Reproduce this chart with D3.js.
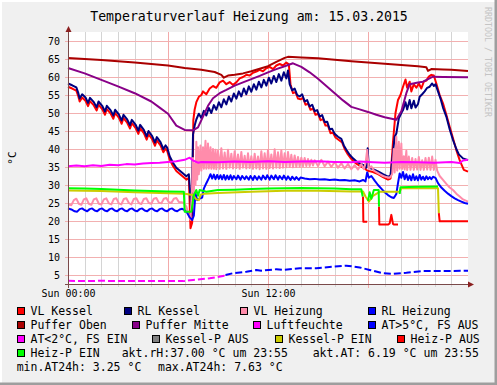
<!DOCTYPE html>
<html>
<head>
<meta charset="utf-8">
<script src="https://cdn.jsdelivr.net/npm/d3@7"></script>
<style>
  body { margin: 0; background: #f0f0f0; }
  svg { display: block; }
  text { font-family: "DejaVu Sans Mono", monospace; }
</style>
</head>
<body>
<script>
// Temperaturverlauf Heizung, rrdtool style

var width = 497;
var height = 385;

var title = "Temperaturverlauf Heizung am: 15.03.2015";
var yLabel = "°C";
var credit = "RRDTOOL / TOBI OETIKER";

var yTicks = [5, 10, 15, 20, 25, 30, 35, 40, 45, 50, 55, 60, 65, 70];
var xTickHours = [0, 12];
var xTickLabels = ["Sun 00:00", "Sun 12:00"];

// [hour, °C]
var vlKessel = [[0,57.3],[0.25,56.8],[0.5,56.2],[0.62,54.6],[0.7,53.2],[0.85,54.3],[1.05,53.4],[1.2,51.9],[1.32,53.3],[1.55,52.1],[1.72,50.7],[1.83,52.3],[2.05,51.1],[2.22,49.5],[2.33,51.1],[2.55,49.9],[2.72,48.4],[2.83,50.0],[3.05,48.7],[3.22,47.0],[3.33,48.6],[3.55,47.3],[3.72,45.7],[3.83,47.2],[4.05,45.9],[4.22,44.2],[4.33,45.8],[4.55,44.4],[4.72,42.6],[4.83,44.1],[5.05,42.7],[5.22,40.9],[5.33,42.4],[5.55,41.0],[5.72,39.1],[5.85,40.1],[5.95,39.5],[6.1,37.1],[6.3,35.3],[6.5,33.9],[6.8,32.7],[7.1,31.5],[7.25,32.0],[7.35,18.0],[7.45,19.5],[7.52,48.0],[7.6,51.0],[7.7,53.0],[7.85,54.5],[8.0,55.0],[8.1,56.0],[8.3,55.2],[8.5,56.8],[8.7,57.5],[8.9,57.0],[9.1,58.5],[9.3,59.0],[9.5,58.0],[9.7,58.6],[9.9,57.8],[10.1,58.5],[10.3,59.6],[10.5,60.0],[10.7,60.6],[10.9,60.4],[11.1,61.2],[11.3,61.5],[11.5,62.0],[11.7,61.6],[11.9,62.4],[12.1,62.8],[12.3,62.2],[12.5,63.2],[12.7,63.6],[12.9,63.2],[13.1,64.0],[13.25,63.5],[13.35,58.0],[13.5,55.5],[13.65,55.8],[13.8,54.0],[13.95,53.8],[14.1,54.2],[14.25,52.3],[14.4,52.6],[14.55,50.9],[14.7,51.2],[14.85,49.5],[15.0,49.8],[15.15,48.0],[15.3,48.3],[15.45,46.5],[15.6,46.5],[15.75,44.4],[15.9,44.5],[16.05,43.2],[16.25,42.5],[16.45,41.8],[16.6,40.0],[16.75,38.8],[16.95,37.5],[17.15,36.5],[17.35,35.8],[17.55,35.2],[17.75,34.8],[17.95,34.0],[18.3,33.6],[18.6,33.0],[18.9,32.2],[19.2,31.5],[19.35,31.8],[19.5,42.0],[19.65,50.0],[19.8,53.6],[19.95,55.0],[20.1,57.3],[20.25,59.3],[20.35,57.0],[20.5,58.7],[20.6,56.0],[20.75,58.0],[20.9,57.0],[21.05,58.2],[21.2,56.8],[21.35,58.7],[21.5,59.0],[21.65,60.1],[21.8,60.6],[21.95,60.4],[22.1,58.2],[22.3,55.0],[22.5,52.7],[22.7,49.5],[22.9,46.2],[23.1,43.0],[23.3,39.7],[23.5,36.9],[23.6,35.8],[23.75,34.2],[24,33.7]];

var rlKessel = [[0,58.2],[0.25,57.7],[0.5,57.1],[0.62,55.5],[0.7,54.0],[0.85,55.2],[1.05,54.3],[1.2,52.8],[1.32,54.2],[1.55,53.0],[1.72,51.6],[1.83,53.2],[2.05,52.0],[2.22,50.4],[2.33,52.0],[2.55,50.8],[2.72,49.3],[2.83,50.9],[3.05,49.6],[3.22,47.9],[3.33,49.5],[3.55,48.2],[3.72,46.6],[3.83,48.1],[4.05,46.8],[4.22,45.1],[4.33,46.7],[4.55,45.3],[4.72,43.5],[4.83,45.0],[5.05,43.6],[5.22,41.8],[5.33,43.3],[5.55,41.9],[5.72,40.0],[5.85,41.0],[5.95,40.4],[6.1,38.0],[6.3,36.2],[6.5,34.8],[6.8,33.6],[7.1,32.4],[7.25,33.0],[7.42,21.5],[7.5,44.0],[7.6,46.5],[7.7,48.2],[7.85,49.8],[8.0,48.6],[8.15,50.6],[8.3,49.3],[8.45,51.4],[8.6,50.0],[8.75,52.2],[8.9,50.9],[9.05,53.0],[9.2,51.6],[9.35,53.8],[9.5,52.4],[9.65,54.6],[9.8,53.2],[9.95,55.4],[10.1,54.0],[10.25,56.0],[10.4,54.6],[10.55,56.8],[10.7,55.2],[10.85,57.4],[11.0,55.9],[11.15,58.0],[11.3,56.5],[11.45,58.7],[11.6,57.1],[11.75,59.2],[11.9,57.6],[12.05,59.8],[12.2,58.2],[12.35,60.3],[12.5,58.6],[12.65,60.8],[12.8,59.0],[12.95,61.3],[13.1,59.6],[13.2,61.8],[13.3,58.0],[13.45,56.3],[13.6,56.8],[13.75,55.0],[13.9,54.6],[14.05,55.2],[14.2,53.2],[14.35,53.6],[14.5,51.8],[14.65,52.3],[14.8,50.5],[14.95,50.8],[15.1,49.0],[15.25,49.4],[15.4,47.5],[15.55,47.6],[15.7,45.5],[15.85,45.6],[16.0,44.2],[16.2,43.4],[16.4,42.8],[16.55,41.0],[16.7,39.8],[16.9,38.4],[17.1,37.4],[17.3,36.6],[17.5,36.0],[17.7,35.6],[17.9,34.8],[17.98,40.2],[18.05,34.8],[18.3,34.4],[18.6,33.8],[18.9,33.0],[19.2,32.3],[19.35,32.6],[19.5,39.0],[19.6,43.4],[19.7,44.3],[19.85,48.5],[20.0,50.0],[20.1,50.8],[20.25,53.0],[20.35,51.0],[20.5,53.6],[20.6,51.3],[20.75,53.4],[20.85,51.5],[21.0,52.5],[21.1,54.5],[21.25,55.2],[21.4,56.0],[21.55,57.0],[21.7,57.3],[21.85,58.2],[21.95,57.5],[22.05,58.0],[22.2,56.0],[22.35,54.0],[22.5,51.5],[22.7,49.0],[22.9,45.5],[23.1,42.5],[23.3,40.0],[23.45,38.5],[23.7,37.4],[24,36.9]];

var vlHeizung = [[0,24.6],[0.2,24.4],[0.35,25.8],[0.5,26.2],[0.65,24.8],[0.8,24.5],[0.95,26.0],[1.1,26.3],[1.25,24.8],[1.4,24.5],[1.55,26.0],[1.7,26.3],[1.85,24.8],[2.0,24.6],[2.15,26.0],[2.3,26.3],[2.45,24.9],[2.6,24.6],[2.75,26.1],[2.9,26.3],[3.05,24.9],[3.2,24.6],[3.35,26.1],[3.5,26.3],[3.65,25.0],[3.8,24.6],[3.95,26.1],[4.1,26.3],[4.25,25.0],[4.4,24.7],[4.55,26.1],[4.7,26.3],[4.85,25.0],[5.0,24.8],[5.15,26.2],[5.3,26.4],[5.45,25.1],[5.6,24.9],[5.75,26.2],[5.9,26.4],[6.05,25.2],[6.2,25.0],[6.35,26.2],[6.5,26.4],[6.65,25.3],[6.8,25.2],[6.95,25.0],[7.1,24.0],[7.25,21.5],[7.35,20.3],[7.45,30.0],[7.5,37.5],[7.55,28.0],[7.6,36.0],[7.65,30.0],[7.7,42.0],[7.75,31.5],[7.8,40.5],[7.85,33.0],[7.95,41.0],[8.0,34.0],[8.1,40.5],[8.15,34.5],[8.25,42.3],[8.3,34.5],[8.4,41.5],[8.45,34.6],[8.55,40.5],[8.6,34.5],[8.7,40.0],[8.75,34.5],[8.85,39.8],[8.9,34.4],[9.0,39.5],[9.1,34.5],[9.2,40.2],[9.3,34.6],[9.4,39.0],[9.5,34.5],[9.6,39.8],[9.7,34.8],[9.8,38.7],[9.9,34.6],[10.0,39.4],[10.1,34.7],[10.2,38.5],[10.3,34.5],[10.4,39.2],[10.5,34.8],[10.6,38.1],[10.7,34.6],[10.8,38.8],[10.9,34.7],[11.0,38.0],[11.1,34.5],[11.2,38.7],[11.3,34.6],[11.4,37.9],[11.5,34.4],[11.6,39.4],[11.7,34.6],[11.8,38.8],[11.9,34.5],[12.0,39.7],[12.1,34.7],[12.2,38.5],[12.3,34.6],[12.4,39.9],[12.5,34.8],[12.6,39.1],[12.7,34.7],[12.8,39.6],[12.9,34.8],[13.0,38.8],[13.1,34.9],[13.2,39.2],[13.3,35.0],[13.4,38.4],[13.5,34.9],[13.6,38.2],[13.7,35.0],[13.8,37.8],[13.9,35.1],[14.0,37.6],[14.1,35.2],[14.2,37.5],[14.3,35.3],[14.4,37.2],[14.5,35.3],[14.6,37.0],[14.7,35.4],[14.8,36.9],[15.0,35.3],[15.2,37.0],[15.4,35.2],[15.6,36.5],[15.8,35.0],[16.0,36.4],[16.2,34.8],[16.4,36.0],[16.6,34.6],[16.8,35.8],[17.0,34.4],[17.2,35.5],[17.4,34.3],[17.6,35.8],[17.75,34.4],[17.85,36.0],[17.95,39.7],[18.05,34.5],[18.2,35.2],[18.35,34.0],[18.5,33.6],[18.7,33.0],[18.9,32.5],[19.1,32.2],[19.3,32.0],[19.45,33.0],[19.55,40.0],[19.6,33.5],[19.7,43.4],[19.75,34.0],[19.85,42.0],[19.9,34.5],[20.0,41.5],[20.05,34.5],[20.15,38.0],[20.2,34.3],[20.3,39.5],[20.35,34.2],[20.45,37.9],[20.55,34.2],[20.65,37.5],[20.75,34.2],[20.85,37.2],[20.95,34.3],[21.05,37.8],[21.15,34.2],[21.25,36.9],[21.35,34.2],[21.45,37.5],[21.55,34.3],[21.65,37.6],[21.75,34.2],[21.85,37.9],[21.95,34.2],[22.05,37.0],[22.15,34.0],[22.3,32.5],[22.5,31.4],[22.7,30.3],[22.9,29.3],[23.1,28.6],[23.3,27.6],[23.5,26.8],[23.7,26.0],[24,25.4]];

var rlHeizung = [[0,23.5],[0.2,23.2],[0.4,22.7],[0.55,22.6],[0.7,23.3],[0.85,23.5],[1.0,23.0],[1.15,22.7],[1.3,23.3],[1.45,23.5],[1.6,22.9],[1.75,22.7],[1.9,23.3],[2.05,23.5],[2.2,22.9],[2.35,22.7],[2.5,23.3],[2.65,23.5],[2.8,22.9],[2.95,22.7],[3.1,23.3],[3.25,23.5],[3.4,22.9],[3.55,22.7],[3.7,23.3],[3.85,23.5],[4.0,22.9],[4.15,22.7],[4.3,23.3],[4.45,23.5],[4.6,22.9],[4.75,22.7],[4.9,23.3],[5.05,23.5],[5.2,22.9],[5.35,22.7],[5.5,23.3],[5.65,23.5],[5.8,22.9],[5.95,22.7],[6.1,23.3],[6.25,23.5],[6.4,22.9],[6.55,22.7],[6.7,23.2],[6.85,23.4],[7.0,23.0],[7.15,22.3],[7.3,21.0],[7.45,20.3],[7.55,21.5],[7.65,27.7],[7.75,25.8],[7.9,26.2],[8.05,26.5],[8.15,29.0],[8.3,30.5],[8.45,31.9],[8.55,33.0],[8.65,31.8],[8.75,32.9],[8.85,31.6],[8.95,32.8],[9.05,31.7],[9.15,32.7],[9.25,31.6],[9.35,32.8],[9.45,31.5],[9.55,32.6],[9.65,31.6],[9.75,32.7],[9.85,31.5],[9.95,32.5],[10.1,31.6],[10.2,32.6],[10.35,31.5],[10.45,32.5],[10.6,31.6],[10.7,32.4],[10.85,31.5],[10.95,32.5],[11.1,31.4],[11.2,32.5],[11.35,31.5],[11.45,32.4],[11.6,31.5],[11.7,32.6],[11.85,31.6],[11.95,32.7],[12.1,31.5],[12.2,32.6],[12.35,31.6],[12.45,32.7],[12.6,31.5],[12.7,32.5],[12.85,31.6],[12.95,32.6],[13.1,31.5],[13.2,32.4],[13.35,31.4],[13.45,32.3],[13.6,31.5],[13.7,32.2],[13.85,31.4],[13.95,32.1],[14.2,31.8],[14.5,31.6],[14.8,31.7],[15.1,31.5],[15.4,31.6],[15.7,31.4],[16.0,31.5],[16.3,31.3],[16.6,31.4],[16.9,31.2],[17.2,31.3],[17.5,31.0],[17.7,31.4],[17.85,31.0],[17.95,33.5],[18.05,32.0],[18.2,32.5],[18.4,31.2],[18.6,30.0],[18.8,29.0],[19.0,28.0],[19.2,27.2],[19.4,26.6],[19.55,26.4],[19.7,27.5],[19.8,30.5],[19.9,33.2],[20.0,32.0],[20.1,33.6],[20.2,31.6],[20.3,33.0],[20.4,31.4],[20.5,32.6],[20.6,31.3],[20.7,33.0],[20.8,31.4],[20.9,32.4],[21.0,31.3],[21.1,32.8],[21.2,31.5],[21.3,32.3],[21.4,31.4],[21.5,32.4],[21.6,31.6],[21.7,32.2],[21.8,31.6],[21.9,32.3],[22.05,32.0],[22.2,30.5],[22.4,29.3],[22.6,28.4],[22.8,27.6],[23.0,26.9],[23.2,26.3],[23.4,25.8],[23.6,25.4],[23.8,25.0],[24,24.8]];

var pufferOben = [[0,65.3],[2,64.7],[4,64.0],[6,63.2],[7,62.5],[8,62.0],[8.8,61.4],[9.2,60.6],[9.35,59.8],[9.6,60.4],[10,60.6],[10.5,61.0],[11,61.6],[11.5,62.3],[12,63.0],[12.5,64.2],[13,65.3],[13.2,65.6],[14,65.4],[15,65.2],[16,64.8],[17,64.4],[18,64.0],[19,63.7],[20,63.3],[21,63.0],[21.5,62.7],[21.6,61.7],[21.8,62.2],[22.5,62.1],[23,62.0],[24,61.7]];

var pufferMitte = [[0,62.5],[1,61.0],[2,59.2],[3,57.4],[4,55.5],[5,53.2],[5.5,51.5],[6,49.8],[6.5,46.5],[7,45.3],[7.5,45.2],[7.8,46.0],[8.1,49.0],[8.4,52.0],[8.7,54.1],[9.1,55.5],[9.5,56.4],[10,57.6],[10.5,58.5],[11,59.4],[11.5,60.3],[12,61.3],[12.5,62.2],[13,63.0],[13.5,63.8],[14,62.8],[14.5,61.3],[15,59.5],[15.5,57.5],[16,55.5],[16.5,53.5],[17,51.7],[17.5,51.0],[18,50.3],[18.5,49.5],[19,48.8],[19.7,48.1],[20.0,50.5],[20.3,55.5],[20.5,58.0],[21,58.5],[21.3,58.7],[21.9,60.1],[22.5,60.0],[24,59.9]];

var luftfeuchte = [[0,35.2],[0.5,35.4],[1,35.2],[1.5,35.5],[2,35.3],[2.5,35.6],[3,35.5],[3.5,35.8],[4,35.7],[4.5,36.0],[5,36.1],[5.5,36.2],[6,36.4],[6.5,36.6],[7,37.0],[7.3,37.6],[7.5,36.8],[7.8,36.2],[8,36.4],[9,36.3],[10,36.5],[11,36.4],[12,36.6],[13,36.4],[14,36.5],[15,36.6],[16,36.4],[17,36.3],[17.5,36.5],[18,36.4],[19,36.2],[20,36.4],[21,36.3],[22,36.2],[23,36.4],[23.5,36.1],[23.7,36.8],[24,37.0]];

var atWarm = [[9.45,5.0],[9.9,5.5],[10.7,5.9],[11.3,6.4],[11.6,6.2],[12.5,6.6],[12.9,6.4],[13.9,6.9],[14.9,6.9],[15.9,7.3],[16.7,7.6],[17.5,7.1],[18.1,6.4],[18.9,5.5],[19.5,5.3],[20.3,5.6],[21.3,6.1],[22.9,6.1],[24,6.2]];

var atCold = [[0,3.4],[1,3.3],[2,3.4],[3,3.3],[4,3.3],[5,3.3],[6,3.3],[6.9,3.3],[7.5,3.6],[8.5,4.1],[9.3,4.7],[9.45,5.0]];

var kesselPEin = [[0,28.5],[2,28.3],[4,28.0],[6,27.7],[7.0,27.6],[7.5,27.2],[7.7,26.0],[7.85,25.8],[7.95,27.3],[8.2,27.6],[9,27.8],[11,28.1],[13,28.4],[15,28.4],[17,28.2],[17.7,28.2],[17.85,26.8],[18.05,25.4],[18.3,27.0],[18.7,28.1],[19.9,28.1],[20.0,29.1],[22.2,29.1],[22.25,22.2]];

var heizPAus = [[17.7,26.8],[17.72,19.8],[17.95,19.8],null,[18.66,24.0],[18.68,19.0],[19.2,19.0],[19.3,19.3],[19.4,21.7],[19.5,19.2],[19.55,19.0],[19.8,19.0],null,[22.25,22.2],[22.3,19.9],[24,19.9]];

var heizPEin = [[0,29.1],[1,29.0],[2,28.9],[3,28.7],[4,28.5],[5,28.3],[6,28.2],[6.95,28.1],[7.0,22.6],[7.4,22.6],[7.55,27.2],[7.7,28.6],[7.8,27.0],[7.9,28.6],[8.3,28.1],[9,28.6],[10,28.7],[11,28.9],[12,29.0],[13,29.1],[14,29.2],[15,29.1],[16,29.0],[17,28.8],[17.6,28.8],[17.68,26.8],null,[18.0,25.6],[18.1,28.0],[18.2,26.2],[18.35,28.6],[18.64,28.6],[18.66,24.0],null,[19.9,27.5],[19.95,29.4],[21,29.5],[22.2,29.6]];

var legendLabels = ["VL Kessel", "RL Kessel", "VL Heizung", "RL Heizung",
  "Puffer Oben", "Puffer Mitte", "Luftfeuchte", "AT>5°C, FS AUS",
  "AT<2°C, FS EIN", "Kessel-P AUS", "Kessel-P EIN", "Heiz-P AUS",
  "Heiz-P EIN"];
var legendColors = ["#ff0000", "#000080", "#ff8cab", "#0000ff",
  "#aa0000", "#880088", "#ff00ff", "#0000ff",
  "#ff00ff", "#808080", "#cccc00", "#ff0000",
  "#00ff00"];
var statLines = ["akt.rH:37.00 °C um 23:55", "akt.AT: 6.19 °C um 23:55",
  "min.AT24h: 3.25 °C", "max.AT24h: 7.63 °C"];

// series drawn in rrd order, index into legend colours
var series = [
  { data: vlKessel, c: 0 }, { data: rlKessel, c: 1 },
  { data: vlHeizung, c: 2 }, { data: rlHeizung, c: 3 },
  { data: pufferOben, c: 4 }, { data: pufferMitte, c: 5 },
  { data: luftfeuchte, c: 6 },
  { data: atWarm, c: 7, dash: "7,3" }, { data: atCold, c: 8, dash: "7,3" },
  { data: kesselPEin, c: 10 }, { data: heizPAus, c: 11 },
  { data: heizPEin, c: 12 }
];

// layout
var plotL = 68, plotR = 468, plotT = 32, plotB = 284;

var x = d3.scaleLinear().domain([0, 24]).range([plotL, plotR]);
var y = d3.scaleLinear().domain([2.5, 72.5]).range([plotB, plotT]);

var svg = d3.select("body").append("svg")
  .attr("width", width)
  .attr("height", height);

// canvas + shaded border
svg.append("rect").attr("width", width).attr("height", height).attr("fill", "#f0f0f0");
svg.append("path").attr("d", "M0,385 V0 H497").attr("stroke", "#ffffff").attr("stroke-width", 4).attr("fill", "none");
svg.append("path").attr("d", "M0,384 H496 V0").attr("stroke", "#9e9e9e").attr("stroke-width", 3).attr("fill", "none");

svg.append("rect")
  .attr("x", plotL).attr("y", plotT)
  .attr("width", plotR - plotL).attr("height", plotB - plotT)
  .attr("fill", "#ffffff");

// grid
var grid = svg.append("g").attr("shape-rendering", "crispEdges");
var hours = d3.range(1, 24);
grid.selectAll("line.minor")
  .data(hours.filter(function(h){ return h % 6 !== 0; }))
  .enter().append("line")
  .attr("x1", function(h){ return Math.round(x(h)) + 0.5; })
  .attr("x2", function(h){ return Math.round(x(h)) + 0.5; })
  .attr("y1", plotT).attr("y2", plotB + 3)
  .attr("stroke", "#d4d4d4");
grid.selectAll("line.major")
  .data(hours.filter(function(h){ return h % 6 === 0; }))
  .enter().append("line")
  .attr("x1", function(h){ return Math.round(x(h)) + 0.5; })
  .attr("x2", function(h){ return Math.round(x(h)) + 0.5; })
  .attr("y1", plotT).attr("y2", plotB + 4)
  .attr("stroke", "#f2aaaa");
grid.selectAll("line.h")
  .data(yTicks)
  .enter().append("line")
  .attr("x1", plotL - 3).attr("x2", plotR)
  .attr("y1", function(d){ return Math.round(y(d)) + 0.5; })
  .attr("y2", function(d){ return Math.round(y(d)) + 0.5; })
  .attr("stroke", "#f2b0b0");

// y labels
var yAxis = d3.axisLeft(y).tickValues(yTicks).tickSize(0).tickPadding(8);
svg.append("g")
  .attr("transform", "translate(" + plotL + ",0)")
  .call(yAxis)
  .call(function(g){ g.select(".domain").remove(); })
  .selectAll("text")
  .attr("font-family", "DejaVu Sans Mono")
  .attr("font-size", "10px")
  .attr("fill", "#000");

// x labels
var xAxis = d3.axisBottom(x).tickValues(xTickHours)
  .tickFormat(function(d, i){ return xTickLabels[i]; })
  .tickSize(0).tickPadding(6);
svg.append("g")
  .attr("transform", "translate(0," + plotB + ")")
  .call(xAxis)
  .call(function(g){ g.select(".domain").remove(); })
  .selectAll("text")
  .attr("font-family", "DejaVu Sans Mono")
  .attr("font-size", "10px")
  .attr("fill", "#000");

// series
var line = d3.line()
  .defined(function(d){ return d !== null; })
  .x(function(d){ return x(d[0]); })
  .y(function(d){ return y(d[1]); });

svg.append("g").selectAll("path")
  .data(series)
  .enter().append("path")
  .attr("d", function(s){ return line(s.data); })
  .attr("fill", "none")
  .attr("stroke", function(s){ return legendColors[s.c]; })
  .attr("stroke-width", 2)
  .attr("stroke-linejoin", "round")
  .attr("stroke-dasharray", function(s){ return s.dash || null; });

// axes with arrows
var axisColor = "#8b2020";
svg.append("line")
  .attr("x1", plotL - 3).attr("x2", plotR + 3)
  .attr("y1", plotB + 0.5).attr("y2", plotB + 0.5)
  .attr("stroke", "#7a4a4a");
svg.append("line")
  .attr("x1", plotL + 0.5).attr("x2", plotL + 0.5)
  .attr("y1", plotB + 4).attr("y2", plotT - 3)
  .attr("stroke", "#7a4a4a");
svg.append("path")
  .attr("d", "M" + (plotL + 0.5) + "," + (plotT - 6) + " l-3,6 h6 z")
  .attr("fill", axisColor);
svg.append("path")
  .attr("d", "M" + (plotR + 6) + "," + (plotB + 0.5) + " l-6,-3 v6 z")
  .attr("fill", axisColor);

// texts
svg.append("text")
  .attr("x", 249).attr("y", 20.5)
  .attr("text-anchor", "middle")
  .attr("font-size", "13.2px")
  .text(title);

svg.append("text")
  .attr("transform", "translate(15.5,158) rotate(-90)")
  .attr("text-anchor", "middle")
  .attr("font-size", "11px")
  .text(yLabel);

svg.append("text")
  .attr("transform", "translate(485,7) rotate(90)")
  .attr("font-size", "8.3px")
  .attr("fill", "#c4c4c4")
  .text(credit);

// legend, rows 14px apart
var rowY = [315, 329, 343, 357, 371];
var legendPos = [[0,17],[0,124],[0,240],[0,368],
  [1,17],[1,132],[1,253],[1,368],
  [2,17],[2,152],[2,275],[2,397],
  [3,17]];
var statPos = [[3,121.7],[3,312.7],[4,16.7],[4,158]];

var leg = svg.append("g");
legendLabels.forEach(function(label, i){
  var p = legendPos[i];
  leg.append("rect")
    .attr("x", p[1] + 0.5).attr("y", rowY[p[0]] - 7.5)
    .attr("width", 7).attr("height", 7)
    .attr("fill", legendColors[i])
    .attr("stroke", "#000")
    .attr("stroke-width", 1);
  leg.append("text")
    .attr("x", p[1] + 13.5).attr("y", rowY[p[0]])
    .attr("font-size", "11.5px")
    .text(label);
});
statLines.forEach(function(s, i){
  leg.append("text")
    .attr("x", statPos[i][1]).attr("y", rowY[statPos[i][0]])
    .attr("font-size", "11.5px")
    .text(s);
});
</script>
</body>
</html>
